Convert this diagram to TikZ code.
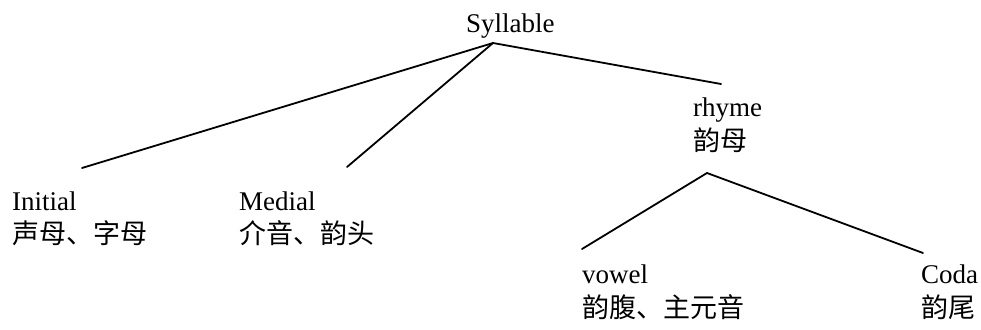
\documentclass[tikz,border=0pt]{standalone}
\usepackage{fontspec}
\setmainfont{Liberation Serif}
\newfontfamily\cjk{Noto Sans CJK SC}
\begin{document}
\begin{tikzpicture}[x=1pt,y=-1pt,
  en/.style={anchor=base west,inner sep=0pt,font=\fontsize{27pt}{30pt}\selectfont},
  zh/.style={anchor=base west,inner sep=0pt,font=\fontsize{27pt}{30pt}\selectfont\cjk},
  branch/.style={line width=1.8pt,line cap=round}]
\useasboundingbox (0,0) rectangle (981,329);
% texts
\node[en] (syl) at (466,33) {Syllable};
\node[en] (ini) at (12,210) {Initial};
\node[zh] (inizh) at (12,243) {声母、字母};
\node[en] (med) at (239,210) {Medial};
\node[zh] (medzh) at (239,243) {介音、韵头};
\node[en] (rhy) at (693,116) {rhyme};
\node[zh] (rhyzh) at (693,150) {韵母};
\node[en] (vow) at (582,283) {vowel};
\node[zh] (vowzh) at (582,317) {韵腹、主元音};
\node[en] (cod) at (921,283) {Coda};
\node[zh] (codzh) at (921,317) {韵尾};
% connector ends
\coordinate (sylA) at (493,43);
\coordinate (iniT) at (82,168);
\coordinate (medT) at (347,167);
\coordinate (rhyT) at (721,84);
\coordinate (rhyA) at (707,173);
\coordinate (vowT) at (582,249);
\coordinate (codT) at (923,253);
\draw[branch] (sylA) -- (iniT);
\draw[branch] (sylA) -- (medT);
\draw[branch] (sylA) -- (rhyT);
\draw[branch] (rhyA) -- (vowT);
\draw[branch] (rhyA) -- (codT);
\end{tikzpicture}
\end{document}
